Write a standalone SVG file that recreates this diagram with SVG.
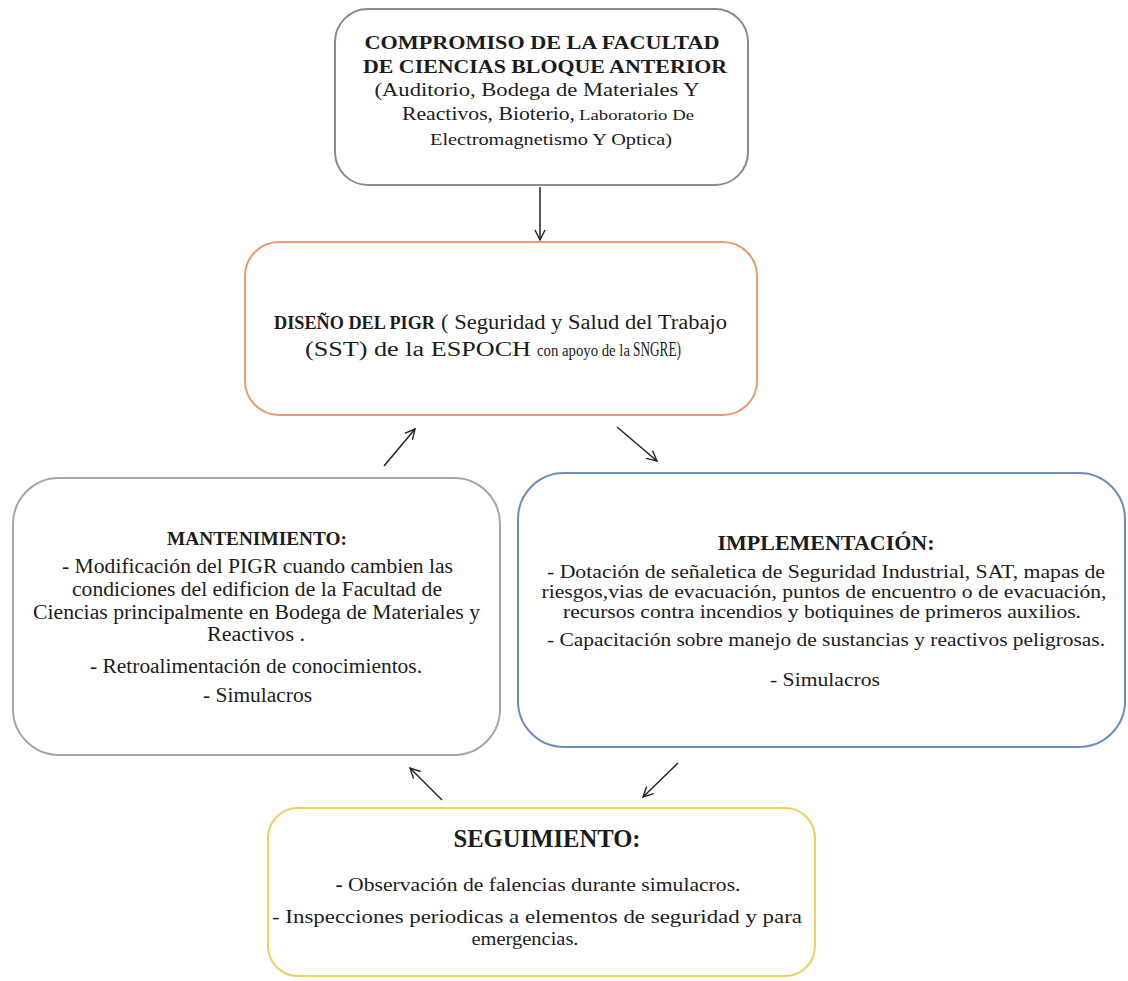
<svg xmlns="http://www.w3.org/2000/svg" width="1128" height="981" viewBox="0 0 1128 981">
  <defs>
    <style>
      text { font-family: "Liberation Serif", "Times New Roman", serif; fill: #1c1c1c; }
      .c { text-anchor: middle; }
      .b { font-weight: bold; }
      .box { fill: #ffffff; stroke-width: 2; }
      .link { stroke: #222222; stroke-width: 1.5; fill: none; marker-end: url(#head); }
    </style>
    <marker id="head" markerUnits="userSpaceOnUse" markerWidth="14" markerHeight="14" refX="11" refY="6" orient="auto">
      <path d="M1,1 L11,6 L1,11" fill="none" stroke="#222222" stroke-width="1.4"/>
    </marker>
  </defs>

  <rect width="1128" height="981" fill="#ffffff"/>

  <!-- Compromiso de la Facultad -->
  <g id="compromiso">
    <rect class="box" x="335" y="9" width="413" height="176" rx="33" stroke="#8a8a8a"/>
    <text class="c b" x="542" y="49" font-size="19" textLength="355" lengthAdjust="spacingAndGlyphs">COMPROMISO DE LA FACULTAD</text>
    <text class="c b" x="545" y="73" font-size="19" textLength="364" lengthAdjust="spacingAndGlyphs">DE CIENCIAS BLOQUE ANTERIOR</text>
    <text class="c" x="537" y="96" font-size="19" textLength="325" lengthAdjust="spacingAndGlyphs">(Auditorio, Bodega de Materiales Y</text>
    <text x="402" y="120" font-size="19" textLength="173" lengthAdjust="spacingAndGlyphs">Reactivos, Bioterio,</text>
    <text x="579" y="120" font-size="15" textLength="115" lengthAdjust="spacingAndGlyphs">Laboratorio De</text>
    <text class="c" x="551" y="145" font-size="16" textLength="242" lengthAdjust="spacingAndGlyphs">Electromagnetismo Y Optica)</text>
  </g>

  <!-- Diseño del PIGR -->
  <g id="diseno">
    <rect class="box" x="245" y="242" width="512" height="173" rx="34" stroke="#ee9a72"/>
    <text class="b" x="274" y="329" font-size="19" textLength="161" lengthAdjust="spacingAndGlyphs">DISEÑO DEL PIGR</text>
    <text x="441" y="329" font-size="20" textLength="286" lengthAdjust="spacingAndGlyphs">( Seguridad y Salud del Trabajo</text>
    <text x="305" y="356" font-size="20" textLength="226" lengthAdjust="spacingAndGlyphs">(SST) de la ESPOCH</text>
    <text x="537" y="356" font-size="16" textLength="93" lengthAdjust="spacingAndGlyphs">con apoyo de la</text>
    <text x="633" y="356" font-size="20" textLength="48" lengthAdjust="spacingAndGlyphs">SNGRE)</text>
  </g>

  <!-- Mantenimiento -->
  <g id="mantenimiento">
    <rect class="box" x="13" y="478" width="487" height="277" rx="46" stroke="#a6a6a6"/>
    <text class="c b" x="257" y="545" font-size="18" textLength="180" lengthAdjust="spacingAndGlyphs">MANTENIMIENTO:</text>
    <text class="c" x="257.5" y="573" font-size="20" textLength="391" lengthAdjust="spacingAndGlyphs">- Modificación del PIGR cuando cambien las</text>
    <text class="c" x="257" y="596" font-size="20" textLength="370" lengthAdjust="spacingAndGlyphs">condiciones del edificion de la Facultad de</text>
    <text class="c" x="256.5" y="619" font-size="20" textLength="447" lengthAdjust="spacingAndGlyphs">Ciencias principalmente en Bodega de Materiales y</text>
    <text class="c" x="256" y="641" font-size="20" textLength="98" lengthAdjust="spacingAndGlyphs">Reactivos .</text>
    <text class="c" x="256" y="673" font-size="20" textLength="332" lengthAdjust="spacingAndGlyphs">- Retroalimentación de conocimientos.</text>
    <text class="c" x="257.5" y="702" font-size="20" textLength="109" lengthAdjust="spacingAndGlyphs">- Simulacros</text>
  </g>

  <!-- Implementación -->
  <g id="implementacion">
    <rect class="box" x="518" y="473" width="607" height="274" rx="46" stroke="#6b8dbb"/>
    <text class="c b" x="826" y="550" font-size="20" textLength="217" lengthAdjust="spacingAndGlyphs">IMPLEMENTACIÓN:</text>
    <text class="c" x="826" y="578" font-size="18" textLength="558" lengthAdjust="spacingAndGlyphs">- Dotación de señaletica de Seguridad Industrial, SAT, mapas de</text>
    <text class="c" x="824" y="598" font-size="18" textLength="565" lengthAdjust="spacingAndGlyphs">riesgos,vias de evacuación, puntos de encuentro o de evacuación,</text>
    <text class="c" x="822" y="618" font-size="18" textLength="518" lengthAdjust="spacingAndGlyphs">recursos contra incendios y botiquines de primeros auxilios.</text>
    <text class="c" x="826" y="646" font-size="18.5" textLength="558" lengthAdjust="spacingAndGlyphs">- Capacitación sobre manejo de sustancias y reactivos peligrosas.</text>
    <text class="c" x="825" y="686" font-size="18.5" textLength="110" lengthAdjust="spacingAndGlyphs">- Simulacros</text>
  </g>

  <!-- Seguimiento -->
  <g id="seguimiento">
    <rect class="box" x="268" y="808" width="547" height="168" rx="30" stroke="#f0cf5e"/>
    <text class="c b" x="547" y="847" font-size="25" textLength="187" lengthAdjust="spacingAndGlyphs">SEGUIMIENTO:</text>
    <text class="c" x="538" y="891" font-size="19.5" textLength="405" lengthAdjust="spacingAndGlyphs"><tspan class="b">-</tspan> Observación de falencias durante simulacros.</text>
    <text class="c" x="537" y="923" font-size="18.5" textLength="530" lengthAdjust="spacingAndGlyphs">- Inspecciones periodicas a elementos de seguridad y para</text>
    <text class="c" x="525" y="945" font-size="18.5" textLength="107" lengthAdjust="spacingAndGlyphs">emergencias.</text>
  </g>

  <!-- Connectors -->
  <g id="connectors">
    <line class="link" x1="540" y1="187" x2="540" y2="240"/>
    <line class="link" x1="384" y1="466" x2="415" y2="429"/>
    <line class="link" x1="617" y1="427" x2="657" y2="461"/>
    <line class="link" x1="442" y1="800" x2="410" y2="768"/>
    <line class="link" x1="678" y1="763" x2="643" y2="797"/>
  </g>
</svg>
